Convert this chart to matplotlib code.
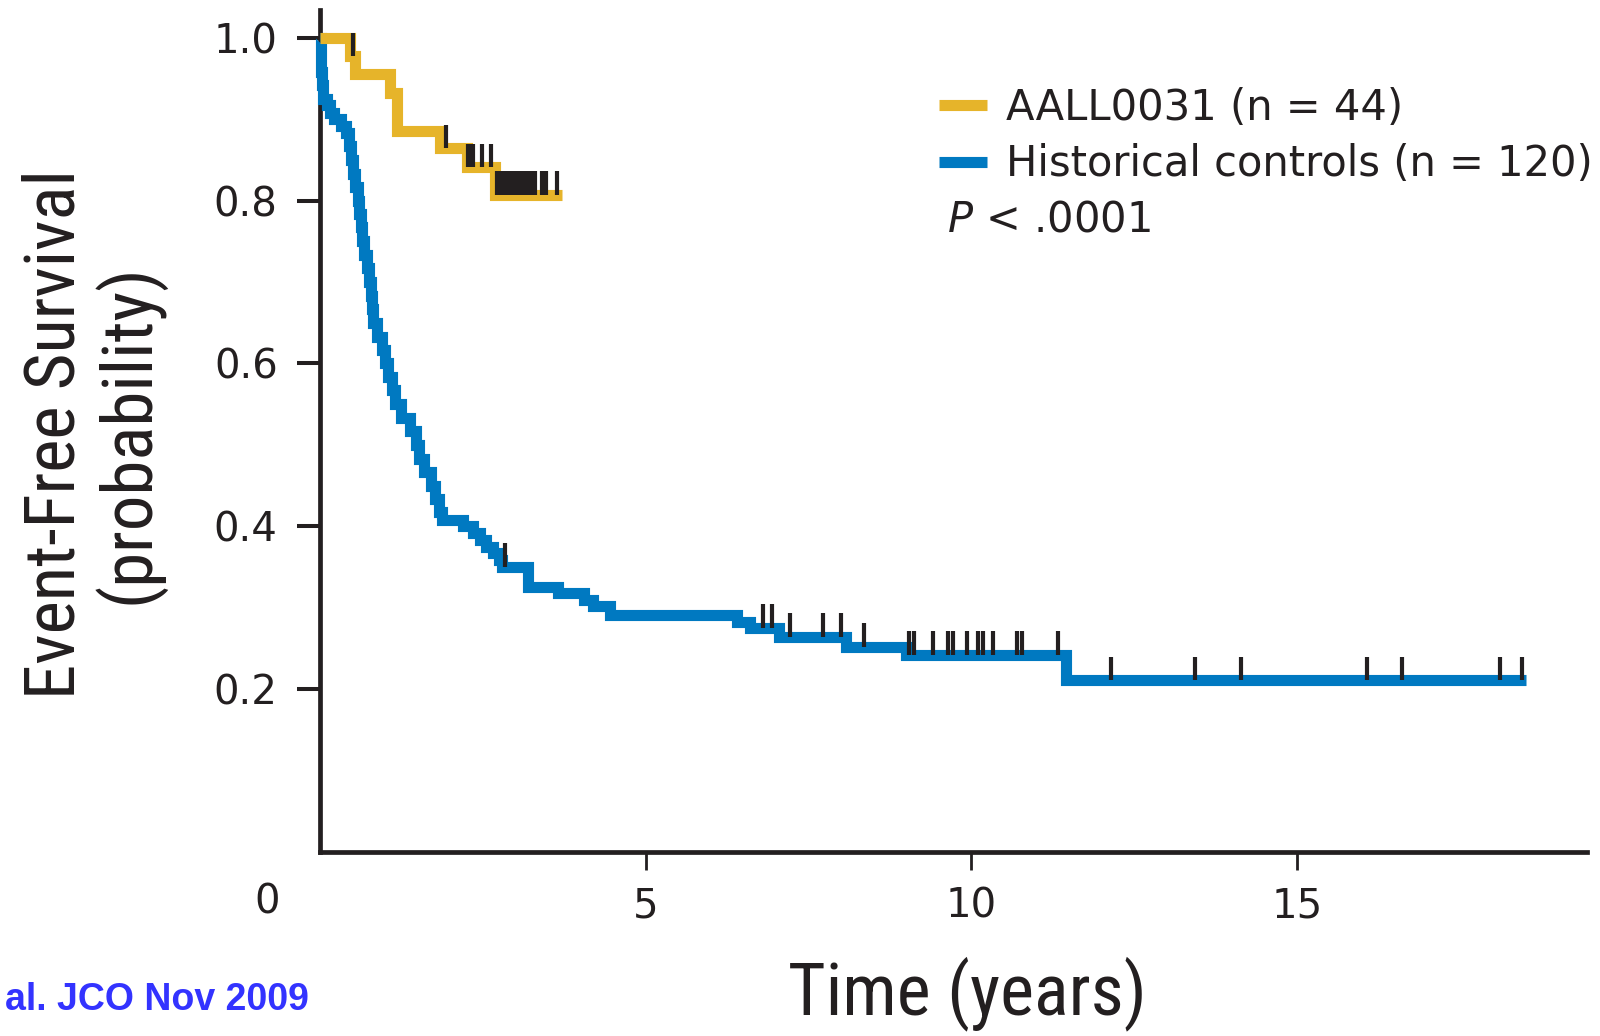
import numpy as np
import matplotlib
matplotlib.use("Agg")
import matplotlib.pyplot as plt

# Kaplan-Meier curves (time in years, event-free survival)
yellow_times = [0, 0.46, 0.54, 1.07, 1.18, 1.84, 2.25, 2.68]
yellow_surv = [1.0, 0.977, 0.955, 0.932, 0.886, 0.864, 0.841, 0.807]
yellow_end = 3.71
yellow_censor = [0.5, 1.93, 2.27, 2.31, 2.35, 2.49, 2.62, 2.72, 2.76, 2.8, 2.85,
                 2.9, 2.95, 3.0, 3.05, 3.1, 3.15, 3.2, 3.25, 3.3, 3.41, 3.47, 3.64]

blue_times = [0, 0.01, 0.02, 0.03, 0.05, 0.1, 0.15, 0.22, 0.32, 0.4,
              0.44, 0.47, 0.5, 0.54, 0.58, 0.6, 0.63, 0.65, 0.68, 0.72,
              0.75, 0.78, 0.8, 0.82, 0.87, 0.95, 1.0, 1.05, 1.1, 1.15,
              1.25, 1.38, 1.47, 1.52, 1.6, 1.7, 1.76, 1.82, 1.88, 2.2,
              2.35, 2.45, 2.55, 2.65, 2.75, 2.8, 3.2, 3.65, 4.05, 4.2,
              4.45, 6.4, 6.6, 7.05, 8.08, 9.0, 11.45]
blue_surv = [1.0, 0.975, 0.958, 0.942, 0.925, 0.917, 0.908, 0.9, 0.892, 0.883,
             0.867, 0.85, 0.833, 0.817, 0.8, 0.783, 0.767, 0.75, 0.733, 0.717,
             0.7, 0.683, 0.667, 0.65, 0.633, 0.617, 0.6, 0.583, 0.567, 0.55,
             0.533, 0.517, 0.5, 0.483, 0.467, 0.45, 0.433, 0.417, 0.408, 0.4,
             0.392, 0.383, 0.375, 0.367, 0.358, 0.35, 0.326, 0.318, 0.31, 0.302,
             0.291, 0.282, 0.275, 0.264, 0.252, 0.242, 0.211]
blue_end = 18.52
blue_censor = [2.84, 6.81, 6.94, 7.21, 7.72, 8.0, 8.36, 9.05, 9.12, 9.42, 9.65,
               9.72, 9.93, 10.1, 10.18, 10.33, 10.7, 10.78, 11.34, 12.14, 13.43,
               14.15, 16.08, 16.62, 18.12, 18.46]

labels = ["AALL0031 (n = 44)", "Historical controls (n = 120)"]
x_ticks = [5, 10, 15]
y_ticks = [0.2, 0.4, 0.6, 0.8, 1.0]

YELLOW = "#E6B42A"
BLUE = "#0079C1"
INK = "#231F20"
NARROW = ["Roboto Condensed", "DejaVu Sans"]

plt.rcParams["font.family"] = ["DejaVu Sans"]

fig = plt.figure(figsize=(16, 10.36), dpi=100)
ax = fig.add_axes([0.2, 0.1776, 0.792, 0.8127])


def km_line(times, surv, end, color, label):
    xs = list(times) + [end]
    ys = list(surv) + [surv[-1]]
    line, = ax.plot(xs, ys, drawstyle="steps-post", color=color, lw=8,
                    solid_joinstyle="miter", solid_capstyle="butt",
                    clip_on=False, zorder=3, label=label)
    return line


def censor_marks(times, surv, censor):
    idx = np.searchsorted(times, censor, side="right") - 1
    ys = np.array(surv)[idx]
    ax.vlines(censor, ys, ys + 0.029, color=INK, lw=3.0, zorder=4, clip_on=False)


h_blue = km_line(blue_times, blue_surv, blue_end, BLUE, labels[1])
h_yel = km_line(yellow_times, yellow_surv, yellow_end, YELLOW, labels[0])
censor_marks(blue_times, blue_surv, blue_censor)
censor_marks(yellow_times, yellow_surv, yellow_censor)

ax.set_xlim(0, 19.46)
ax.set_ylim(0, 1.034)
for s in ["top", "right"]:
    ax.spines[s].set_visible(False)
for s in ["left", "bottom"]:
    ax.spines[s].set_linewidth(3.4)
    ax.spines[s].set_color(INK)

ax.set_xticks(x_ticks)
ax.set_xticklabels([str(t) for t in x_ticks])
ax.set_yticks(y_ticks)
ax.set_yticklabels(["%.1f" % t for t in y_ticks])
ax.tick_params(axis="y", direction="out", length=16.5, width=2.9, color=INK,
               pad=14, labelsize=29, labelcolor=INK)
ax.tick_params(axis="x", direction="out", length=13, width=2.0, color=INK,
               pad=12, labelsize=29, labelcolor=INK)

# corner zero
fig.text(267 / 1600, 1 - 903 / 1036, "0", ha="center", va="center",
         fontsize=29, color=INK)

ax.set_xlabel("Time (years)", fontsize=52, color=INK, va="center", family=NARROW)
ax.xaxis.set_label_coords((967 - 320) / 1267, (852 - 994) / 842)
ax.set_ylabel("Event-Free Survival\n(probability)", fontsize=51, color=INK,
              va="center", ha="center", linespacing=1.05, family=NARROW)
ax.yaxis.set_label_coords((93 - 320) / 1267, (852 - 434) / 842)

leg = ax.legend(handles=[h_yel, h_blue], labels=labels, loc="upper left",
                bbox_to_anchor=(939 / 1600, 1 - 87 / 1036),
                bbox_transform=fig.transFigure, frameon=False, fontsize=30,
                handlelength=1.15, handletextpad=0.45, labelspacing=0.34,
                borderpad=0, borderaxespad=0)
for t in leg.get_texts():
    t.set_color(INK)

fig.text(947 / 1600, 1 - 219 / 1036, r"$\mathit{P}$ < .0001", ha="left",
         va="center", fontsize=30, color=INK)

fig.text(5 / 1600, 1 - 1000 / 1036, "al. JCO Nov 2009", ha="left", va="center",
         fontsize=27, fontweight="bold", color="#3333FF",
         family=["Liberation Sans", "DejaVu Sans"])

fig.savefig("out.png", dpi=100)
